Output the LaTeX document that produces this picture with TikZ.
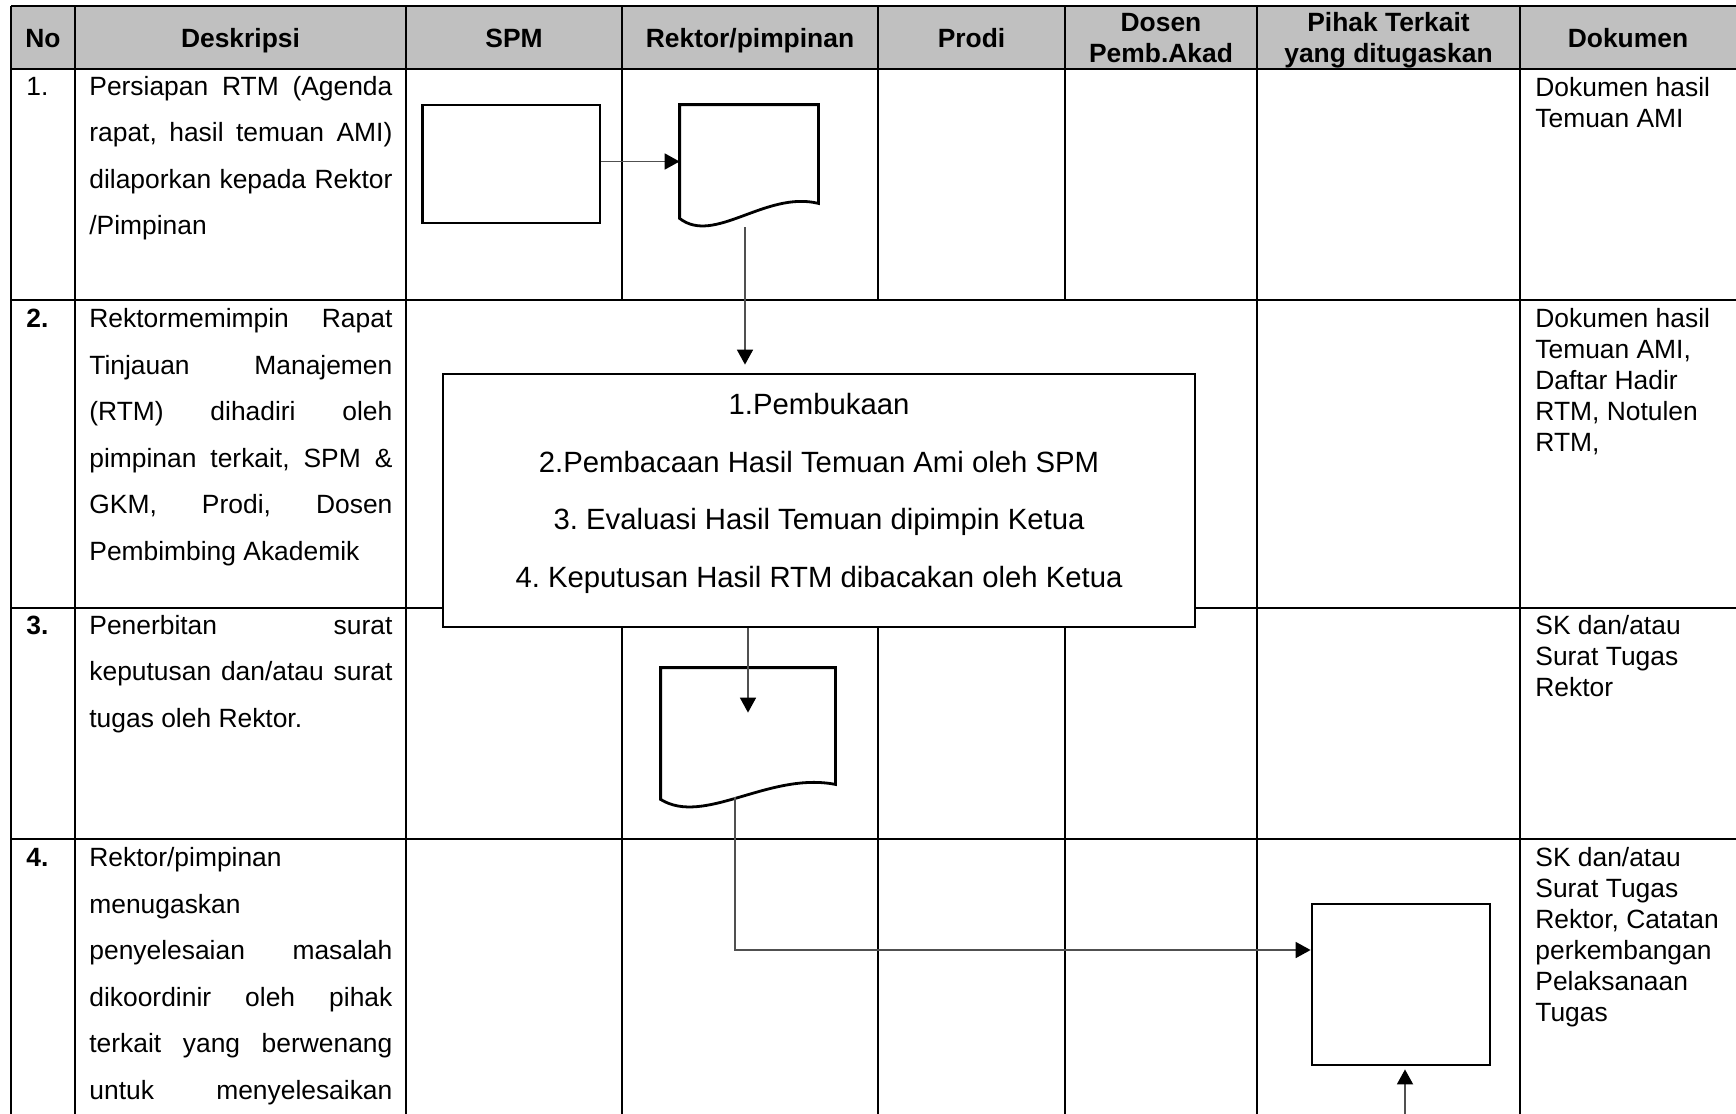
\documentclass[tikz,border=0pt]{standalone}
\usepackage{fontspec}
\setmainfont{Liberation Sans}
\usetikzlibrary{arrows.meta,calc,positioning}
\frenchspacing

% one justified line of the description column
\newlength{\desclen}
\setlength{\desclen}{151.5pt}
\newcommand{\jline}[1]{\makebox[\desclen][s]{#1}}
% outline of a flowchart document symbol around an (invisible) node
\newcommand{\docoutline}[1]{%
  \draw[style=shape line] (#1.south west) -- (#1.north west) -- (#1.north east)
    -- ($(#1.south east)+(0,-15)$)
    .. controls ($(#1.south west)!0.62!(#1.south east)+(0,-28)$)
    and ($(#1.south west)!0.25!(#1.south east)+(0,27)$) .. (#1.south west) -- cycle;}

\begin{document}
\begin{tikzpicture}[x=0.5pt,y=-0.5pt]
  % Local definitions
  \def\tabright{1737}
  \def\tabbottom{1120}

  % Colors
  \definecolor{headgray}{RGB}{192,192,192}
  \definecolor{flowgray}{RGB}{80,80,80}

  % Styles
  \tikzstyle{row line}=[line width=1.4pt]
  \tikzstyle{col line}=[line width=1pt]
  \tikzstyle{shape line}=[line width=1.4pt]
  \tikzstyle{head}=[anchor=base,inner sep=0pt,text width=130pt,align=flush center,
                    font=\bfseries\fontsize{13.2}{15.5}\selectfont]
  \tikzstyle{nomor}=[anchor=base west,inner sep=0pt,font=\fontsize{13.2}{15.5}\selectfont]
  \tikzstyle{desc}=[anchor=base west,inner sep=0pt,text width=151.5pt,align=flush left,
                    font=\fontsize{13.2}{23.25}\selectfont]
  \tikzstyle{dok}=[anchor=base west,inner sep=0pt,text width=100pt,align=flush left,
                   font=\fontsize{13.2}{15.5}\selectfont]
  \tikzstyle{proses}=[draw,style=shape line,fill=white,inner sep=0pt]
  \tikzstyle{docnode}=[inner sep=0pt]
  \tikzstyle{flow}=[draw=flowgray,line width=0.9pt,
                    -{Triangle[length=7.5pt,width=8pt,color=black]}]

  \useasboundingbox (0,0) rectangle (1736,1114);

  % The table
  \fill[headgray] (11,6) rectangle (\tabright,69);
  \foreach \y in {6,69,300,608,839}
    \draw[row line] (11,\y) -- (\tabright,\y);
  \foreach \x in {11,75,406,1257,1520,\tabright}
    \draw[col line] (\x,6) -- (\x,\tabbottom);
  \foreach \x in {622,878,1065} {
    \draw[col line] (\x,6) -- (\x,300);
    \draw[col line] (\x,608) -- (\x,\tabbottom);
  }

  \foreach \x/\y/\nm/\txt in {43/47/hno/No, 240.5/47/hdesk/Deskripsi, 514/47/hspm/SPM,
      750/47/hrektor/{Rektor/pimpinan}, 971.5/47/hprodi/Prodi,
      1161/31.5/hdosen/{Dosen\\Pemb.Akad},
      1388.5/31.5/hpihak/{Pihak Terkait\\yang ditugaskan}, 1628/47/hdok/Dokumen}
    \node[head] (\nm) at (\x,\y) {\txt};

  % Numbers
  \node[nomor] (no1) at (26,95) {1.};
  \node[nomor] (no2) at (26,327.5) {\bfseries 2.};
  \node[nomor] (no3) at (26,634) {\bfseries 3.};
  \node[nomor] (no4) at (26,866.5) {\bfseries 4.};

  % Descriptions
  \node[desc] (desc1) at (89,95)
    {\jline{Persiapan RTM (Agenda}\\ \jline{rapat, hasil temuan AMI)}\\
     \jline{dilaporkan kepada Rektor}\\ /Pimpinan};
  \node[desc] (desc2) at (89,327.5)
    {\jline{Rektormemimpin Rapat}\\ \jline{Tinjauan Manajemen}\\
     \jline{(RTM) dihadiri oleh}\\ \jline{pimpinan terkait, SPM \&}\\
     \jline{GKM, Prodi, Dosen}\\ Pembimbing Akademik};
  \node[desc] (desc3) at (89,634)
    {\jline{Penerbitan surat}\\ \jline{keputusan dan/atau surat}\\ tugas oleh Rektor.};
  \node[desc] (desc4) at (89,866.5)
    {Rektor/pimpinan\\ menugaskan\\ \jline{penyelesaian masalah}\\
     \jline{dikoordinir oleh pihak}\\ \jline{terkait yang berwenang}\\
     \jline{untuk menyelesaikan}};

  % Documents
  \node[dok] (dok1) at (1535,96) {Dokumen hasil\\Temuan AMI};
  \node[dok] (dok2) at (1535,327.5) {Dokumen hasil\\Temuan AMI,\\Daftar Hadir\\RTM, Notulen\\RTM,};
  \node[dok] (dok3) at (1535,634) {SK dan/atau\\Surat Tugas\\Rektor};
  \node[dok] (dok4) at (1535,866.5)
    {SK dan/atau\\Surat Tugas\\Rektor, Catatan\\perkembangan\\Pelaksanaan\\Tugas};

  % Flow shapes
  \node[proses,minimum width=88.75pt,minimum height=59pt] (spm1) at (511.25,164) {};
  \node[docnode,minimum width=69pt,minimum height=56.5pt] (d1) at (749,161.5) {};
  \docoutline{d1}
  \node[proses,minimum width=376pt,minimum height=126.5pt,text width=360pt,align=flush center,
        font=\fontsize{14.65}{28.75}\selectfont,text depth=96.5pt] (agenda) at (819,500.5)
    {1.Pembukaan\\2.Pembacaan Hasil Temuan Ami oleh SPM\\3. Evaluasi Hasil Temuan dipimpin Ketua\\4. Keputusan Hasil RTM dibacakan oleh Ketua};
  \node[docnode,minimum width=87pt,minimum height=65.5pt] (d3) at (748,733.5) {};
  \docoutline{d3}
  \node[proses,minimum width=89pt,minimum height=80.5pt] (tugas) at (1401,984.5) {};

  % Connectors
  \coordinate (d1out) at ($(d1.south)+(-4,9)$);
  \coordinate (d3out) at ($(d3.south)+(-13,-2)$);
  \coordinate (tugasin) at ($(tugas.west)+(0,-34.5)$);
  \coordinate (fromsub) at (1405,\tabbottom);

  \draw[flow] (spm1.east |- d1.west) -- (d1.west);
  \draw[flow,shorten >=4pt] (d1out) -- (d1out |- agenda.north);
  \draw[flow] (d3.north |- agenda.south) -- ($(d3.north)+(0,45)$);
  \draw[flow] (d3out) |- (tugasin);
  \draw[flow,shorten >=1.5pt] (fromsub) -- (fromsub |- tugas.south);
\end{tikzpicture}
\end{document}
